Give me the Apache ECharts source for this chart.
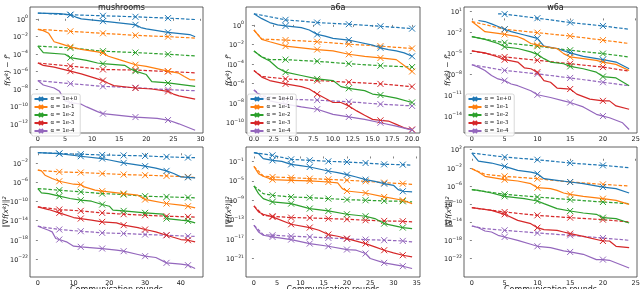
<!DOCTYPE html>
<html><head><meta charset="utf-8">
<script src="https://cdn.jsdelivr.net/npm/echarts@6/dist/echarts.min.js"></script>
<style>html,body{margin:0;padding:0;background:#fff}#c{width:640px;height:289px}</style>
</head><body><div id="c"></div>
<script>
// ---------- DATA (y values are log10 of the plotted quantity, x = communication round) ----------
const alphaNames = ['α = 1e+0','α = 1e-1','α = 1e-2','α = 1e-3','α = 1e-4'];
const titles = ['mushrooms','a6a','w6a'];

// marker rounds
const mushF_marks = [6,12,18,24];
const a6aF_marks  = [4,8,12,16,20];
const w6aF_marks  = [5,10,15,20];
const mushG_marks = [6,12,18,24,30,36,42];
const a6aG_marks  = [4,8,12,16,20,24,28,32];
const w6aG_marks  = [5,10,15,20];

// tick labels (x)
const mushF_xticks = [0,5,10,15,20,25,30];
const a6aF_xticks  = [0,2.5,5,7.5,10,12.5,15,17.5,20];
const w6aF_xticks  = [0,5,10,15,20,25];
const mushG_xticks = [0,10,20,30,40];
const a6aG_xticks  = [0,5,10,15,20,25,30,35];
const w6aG_xticks  = [0,5,10,15,20,25];
// tick labels (y exponents)
const mushF_yticks = [0,-2,-4,-6,-8,-10,-12];
const a6aF_yticks  = [0,-2,-4,-6,-8,-10];
const w6aF_yticks  = [1,-2,-5,-8,-11,-14];
const mushG_yticks = [-2,-6,-10,-14,-18,-22];
const a6aG_yticks  = [-1,-5,-9,-13,-17,-21];
const w6aG_yticks  = [2,-2,-6,-10,-14,-18,-22];

// mushrooms, f(x^k)-f*
const mushF_s0 = [[0,0.66],[4,0.6],[6,0.46],[7,0.2],[8,0.0],[12,-0.27],[17,-0.6],[18,-0.69],[19,-1.0],[20,-1.15],[24,-1.54],[28,-1.8],[29,-2.05]];
const mushF_d0 = [[0,0.66],[6,0.46],[12,0.35],[18,0.23],[24,0.08],[29,-0.08]];
const mushF_s1 = [[0,-1.2],[1,-1.35],[2,-1.66],[3,-2.62],[4,-2.8],[6,-3.2],[8,-3.5],[11,-3.78],[12,-3.9],[13,-4.28],[15,-4.67],[18,-5.25],[20,-5.44],[24,-5.98],[26,-6.21],[27,-6.6],[28,-6.94],[29,-6.98]];
const mushF_d1 = [[0,-1.2],[6,-1.43],[12,-1.66],[18,-1.89],[24,-2.04],[29,-2.2]];
const mushF_s2 = [[0,-3.13],[1,-3.86],[5,-4.05],[6,-4.44],[9,-4.75],[11,-5.05],[12,-5.13],[16,-5.32],[17,-5.71],[18,-5.98],[20,-6.37],[21,-7.18],[24,-7.33],[29,-7.72]];
const mushF_d2 = [[0,-3.13],[6,-3.32],[12,-3.7],[18,-3.86],[24,-4.05],[29,-4.24]];
const mushF_s3 = [[0,-5.05],[1,-5.32],[3,-5.52],[6,-5.98],[8,-6.29],[11,-6.87],[12,-7.06],[13,-7.37],[14,-7.64],[18,-7.91],[21,-8.02],[24,-8.3],[25,-8.6],[26,-8.8],[29,-9.18]];
const mushF_d3 = [[0,-5.05],[6,-5.4],[12,-5.79],[18,-5.86],[24,-6.02],[29,-6.17]];
const mushF_s4 = [[0,-7.06],[1,-7.56],[3,-7.91],[4,-8.29],[5,-9.38],[6,-9.57],[8,-9.76],[9,-10.07],[11,-10.61],[12,-10.84],[18,-11.23],[22,-11.38],[24,-11.57],[26,-12.0],[29,-12.73]];
const mushF_d4 = [[0,-7.06],[6,-7.41],[12,-7.72],[18,-7.87],[24,-8.1],[29,-8.22]];

// a6a, f(x^k)-f*
const a6aF_s0 = [[0,1.14],[1,0.64],[2,0.24],[3,0.0],[4,-0.1],[6,-0.28],[7,-0.52],[8,-0.97],[9,-1.14],[10,-1.38],[12,-1.55],[13,-1.72],[15,-2.07],[16,-2.34],[17,-2.52],[18,-2.66],[19,-2.86],[20,-3.21]];
const a6aF_d0 = [[0,1.14],[4,0.52],[8,0.24],[12,0.07],[16,-0.14],[20,-0.38]];
const a6aF_s1 = [[0,-0.52],[1,-1.48],[2,-1.72],[4,-2.17],[6,-2.34],[8,-2.52],[10,-2.66],[12,-3.0],[14,-3.21],[16,-3.38],[18,-3.55],[19,-4.14],[20,-4.76]];
const a6aF_d1 = [[0,-0.52],[1,-1.45],[4,-1.55],[8,-1.72],[12,-1.97],[16,-2.17],[20,-2.41]];
const a6aF_s2 = [[0,-2.66],[1,-3.28],[2,-3.69],[3,-4.41],[4,-4.83],[6,-5.17],[8,-5.52],[10,-5.69],[11,-6.31],[12,-6.48],[14,-6.72],[15,-7.07],[16,-7.17],[18,-7.48],[20,-7.93]];
const a6aF_d2 = [[0,-2.66],[1,-3.28],[2,-3.55],[4,-3.55],[8,-3.72],[12,-3.97],[16,-4.17],[20,-4.31]];
const a6aF_s3 = [[0,-4.66],[1,-5.34],[2,-5.69],[4,-6.03],[6,-6.31],[7,-6.55],[8,-7.07],[10,-7.93],[11,-7.93],[12,-8.28],[13,-8.79],[14,-9.24],[15,-9.66],[16,-9.76],[17,-9.83],[18,-10.17],[19,-10.52],[20,-10.69]];
const a6aF_d3 = [[0,-4.66],[1,-5.28],[4,-5.52],[8,-5.69],[12,-5.86],[16,-6.03],[20,-6.31]];
const a6aF_s4 = [[0,-6.66],[1,-7.41],[2,-7.76],[4,-8.1],[6,-8.38],[8,-8.62],[10,-9.14],[12,-9.41],[14,-9.66],[16,-10.0],[18,-10.34],[20,-10.75]];
const a6aF_d4 = [[0,-6.66],[1,-7.24],[4,-7.59],[8,-7.69],[12,-7.86],[16,-8.1],[20,-8.28]];

// w6a, f(x^k)-f*
const w6aF_s0 = [[1,-0.3],[2,-0.45],[3,-0.79],[4,-1.17],[5,-1.56],[6,-1.9],[8,-2.38],[9,-2.62],[10,-2.86],[11,-3.98],[13,-4.31],[15,-4.94],[17,-5.43],[20,-5.91],[22,-6.25],[24,-7.21]];
const w6aF_d0 = [[4,0.66],[5,0.61],[10,0.03],[15,-0.59],[20,-1.08],[24,-1.56]];
const w6aF_s1 = [[0,-0.45],[1,-1.17],[2,-1.9],[4,-2.14],[5,-2.29],[7,-2.62],[8,-3.01],[9,-3.59],[10,-3.83],[12,-4.17],[13,-4.31],[14,-5.04],[15,-5.52],[17,-5.76],[19,-6.0],[20,-6.25],[22,-6.58],[24,-7.45]];
const w6aF_d1 = [[0,-0.45],[5,-1.56],[10,-2.04],[15,-2.53],[20,-3.11],[24,-3.59]];
const w6aF_s2 = [[0,-2.62],[2,-3.01],[4,-3.59],[5,-4.07],[7,-4.31],[9,-4.8],[10,-5.14],[11,-5.76],[12,-6.25],[14,-6.49],[15,-6.87],[17,-7.21],[19,-7.7],[20,-8.32],[22,-8.52],[24,-9.63]];
const w6aF_d2 = [[0,-2.62],[5,-3.49],[10,-3.98],[15,-4.56],[20,-5.04],[24,-5.52]];
const w6aF_s3 = [[0,-4.65],[2,-4.94],[4,-5.52],[5,-5.91],[7,-6.25],[8,-7.07],[9,-7.21],[10,-7.7],[11,-8.9],[12,-9.14],[13,-9.97],[15,-10.11],[16,-10.84],[18,-11.56],[20,-11.8],[21,-11.8],[22,-12.53],[24,-13.0]];
const w6aF_d3 = [[0,-4.65],[5,-5.52],[10,-6.0],[15,-6.49],[20,-6.97],[24,-7.55]];
const w6aF_s4 = [[0,-6.63],[1,-6.97],[2,-7.45],[3,-8.18],[4,-8.66],[5,-8.9],[6,-9.39],[7,-9.63],[9,-10.35],[10,-10.93],[12,-11.32],[14,-11.8],[15,-12.04],[17,-12.67],[19,-13.73],[20,-13.98],[21,-14.22],[23,-14.94],[24,-15.9]];
const w6aF_d4 = [[0,-6.63],[5,-7.45],[10,-7.94],[15,-8.52],[20,-9.14],[24,-9.63]];

// mushrooms, ||grad f(x^k)||^2
const mushG_s0 = [[0,0.15],[6,-0.06],[12,-0.62],[18,-1.1],[20,-1.4],[24,-2.0],[30,-2.69],[33,-3.1],[36,-3.66],[38,-4.2],[40,-4.91],[42,-5.0],[44,-5.11]];
const mushG_d0 = [[0,0.15],[6,-0.06],[12,-0.2],[18,-0.35],[24,-0.45],[30,-0.55],[36,-0.75],[42,-0.89],[44,-0.9]];
const mushG_s1 = [[0,-3.52],[1,-3.66],[2,-4.56],[4,-5.25],[6,-5.81],[10,-6.43],[12,-6.5],[13,-6.98],[16,-7.67],[18,-7.88],[24,-8.37],[28,-8.71],[30,-9.61],[31,-9.75],[36,-10.44],[40,-10.79],[42,-11.0],[44,-11.34]];
const mushG_d1 = [[0,-3.52],[6,-3.87],[12,-4.0],[18,-4.21],[24,-4.42],[30,-4.56],[36,-4.7],[42,-4.91],[44,-5.05]];
const mushG_s2 = [[0,-7.33],[1,-8.23],[3,-8.37],[6,-8.92],[9,-9.4],[12,-9.75],[15,-9.96],[18,-10.65],[20,-11.0],[21,-11.83],[24,-11.97],[30,-12.38],[35,-12.66],[36,-13.56],[40,-13.9],[42,-14.04],[44,-14.46]];
const mushG_d2 = [[0,-7.33],[6,-7.67],[12,-8.02],[18,-8.37],[24,-8.57],[30,-8.92],[36,-9.06],[42,-9.2],[44,-9.27]];
const mushG_s3 = [[0,-11.13],[3,-11.69],[6,-12.38],[10,-13.35],[12,-13.56],[15,-13.9],[18,-14.25],[22,-14.46],[24,-14.94],[28,-15.43],[30,-15.84],[33,-16.33],[36,-17.02],[40,-17.92],[42,-18.06],[44,-18.4]];
const mushG_d3 = [[0,-11.13],[6,-11.69],[12,-11.97],[18,-12.38],[24,-12.66],[30,-12.87],[36,-13.07],[42,-13.21],[44,-13.25]];
const mushG_s4 = [[0,-15.15],[3,-15.98],[4,-16.33],[5,-17.71],[6,-17.92],[8,-18.4],[10,-19.3],[12,-19.44],[18,-19.79],[22,-20.13],[24,-20.34],[28,-21.03],[30,-21.38],[33,-21.65],[36,-22.76],[40,-23.04],[42,-23.25],[44,-23.94]];
const mushG_d4 = [[0,-15.15],[6,-15.84],[12,-16.19],[18,-16.53],[24,-16.67],[30,-16.88],[36,-17.02],[42,-17.22],[44,-17.26]];

// a6a, ||grad f(x^k)||^2
const a6aG_s0 = [[0,0.78],[1,0.58],[2,-0.45],[4,-0.79],[6,-1.0],[8,-1.62],[10,-1.89],[12,-2.16],[14,-2.58],[16,-2.99],[18,-3.33],[20,-3.74],[22,-4.22],[24,-4.77],[26,-5.11],[28,-5.59],[30,-5.93],[31,-6.82],[32,-7.16],[34,-7.3]];
const a6aG_d0 = [[0,0.78],[4,0.23],[8,-0.59],[12,-0.79],[16,-1.0],[20,-1.14],[24,-1.34],[28,-1.62],[32,-1.68],[34,-1.82]];
const a6aG_s1 = [[0,-2.03],[1,-3.53],[2,-4.08],[4,-4.77],[8,-4.9],[12,-5.04],[16,-5.25],[18,-5.45],[19,-6.62],[20,-7.1],[24,-7.51],[28,-8.33],[32,-9.01],[34,-9.7]];
const a6aG_d1 = [[0,-2.03],[2,-4.01],[4,-4.22],[8,-4.36],[12,-4.56],[16,-4.7],[20,-4.9],[24,-5.11],[28,-5.38],[32,-5.59],[34,-5.73]];
const a6aG_s2 = [[0,-6.07],[1,-7.64],[2,-8.67],[4,-9.36],[8,-9.7],[12,-10.73],[16,-11.21],[20,-11.89],[24,-12.3],[26,-12.78],[28,-13.81],[32,-14.63],[34,-14.84]];
const a6aG_d2 = [[0,-6.07],[2,-7.64],[4,-7.99],[8,-8.33],[12,-8.47],[16,-8.67],[20,-8.88],[24,-9.01],[28,-9.15],[32,-9.22],[34,-9.36]];
const a6aG_s3 = [[0,-10.18],[1,-11.41],[2,-11.89],[4,-12.44],[8,-13.95],[12,-14.63],[14,-15.18],[16,-16.07],[18,-16.41],[20,-16.89],[24,-17.92],[26,-18.6],[28,-19.29],[30,-19.84],[32,-20.32],[34,-20.66]];
const a6aG_d3 = [[0,-10.18],[2,-12.1],[4,-12.3],[8,-12.58],[12,-12.64],[16,-12.78],[20,-12.92],[24,-13.12],[28,-13.26],[32,-13.33],[34,-13.47]];
const a6aG_s4 = [[0,-14.15],[1,-15.52],[2,-16.21],[4,-16.55],[8,-17.1],[12,-17.92],[16,-18.47],[20,-19.15],[22,-19.29],[24,-19.97],[25,-21.0],[28,-21.89],[32,-22.58],[34,-23.05]];
const a6aG_d4 = [[0,-14.15],[2,-16.07],[4,-16.21],[8,-16.41],[12,-16.55],[16,-16.75],[20,-16.96],[24,-17.1],[28,-17.23],[32,-17.37],[34,-17.58]];

// w6a, ||grad f(x^k)||^2
const w6aG_s0 = [[0,1.26],[1,-0.5],[3,-0.94],[5,-1.68],[7,-2.56],[9,-2.93],[10,-3.29],[11,-4.4],[13,-4.76],[15,-5.13],[17,-5.5],[20,-6.24],[22,-6.6],[24,-7.56]];
const w6aG_d0 = [[0,1.26],[5,0.38],[10,-0.21],[15,-0.94],[20,-1.46],[24,-1.97]];
const w6aG_s1 = [[0,-2.19],[1,-2.93],[2,-3.88],[5,-4.62],[7,-4.91],[9,-5.5],[10,-6.38],[12,-6.6],[13,-6.97],[14,-7.56],[15,-7.85],[17,-8.29],[20,-8.81],[22,-9.18],[24,-10.06]];
const w6aG_d1 = [[0,-2.19],[2,-3.44],[5,-3.88],[10,-4.4],[15,-5.13],[20,-5.65],[24,-6.01]];
const w6aG_s2 = [[0,-6.82],[1,-6.97],[3,-7.56],[5,-8.29],[8,-8.81],[10,-9.32],[11,-9.91],[13,-11.01],[15,-11.53],[17,-11.97],[19,-12.26],[20,-13.0],[22,-13.22],[24,-14.18]];
const w6aG_d2 = [[0,-6.82],[5,-7.85],[10,-8.44],[15,-9.03],[20,-9.54],[24,-9.91]];
const w6aG_s3 = [[0,-10.79],[3,-11.38],[5,-12.26],[7,-13.59],[9,-14.32],[10,-15.21],[11,-15.65],[13,-15.79],[14,-16.16],[15,-16.53],[17,-17.12],[20,-18.15],[21,-18.15],[22,-19.32],[24,-19.62]];
const w6aG_d3 = [[0,-10.79],[5,-11.75],[10,-12.49],[15,-13.0],[20,-13.44],[24,-13.96]];
const w6aG_s4 = [[0,-14.84],[1,-15.21],[2,-15.94],[3,-16.16],[4,-16.9],[5,-17.26],[7,-18.0],[9,-18.88],[10,-19.32],[12,-19.62],[14,-20.35],[15,-20.57],[17,-21.09],[19,-22.26],[20,-22.26],[21,-22.41],[24,-24.1]];
const w6aG_d4 = [[0,-14.84],[2,-15.43],[5,-15.79],[10,-16.38],[15,-16.9],[20,-17.49],[24,-18.0]];

// ---------- LAYOUT / STYLE ----------
const COLORS = ['#1f77b4','#ff7f0e','#2ca02c','#d62728','#9467bd'];
const FONT = 'DejaVu Sans';
const XMARK = 'path://M0,0L10,10M10,0L0,10';
const nameF = 'f(x{s|k}) − f{s|*}';
const nameG = '‖∇f(x{s|k})‖{s|2}';

const panels = [
  {grid:{left:30,top:7,width:173,height:126}, xr:[-1.45,30.45], yr:[-13.05,1.35], xt:mushF_xticks, yt:mushF_yticks, marks:mushF_marks, S:[mushF_s0,mushF_s1,mushF_s2,mushF_s3,mushF_s4], D:[mushF_d0,mushF_d1,mushF_d2,mushF_d3,mushF_d4], yname:nameF, ngap:18, dec:0, top:true},
  {grid:{left:246,top:7,width:174,height:126}, xr:[-1,21], yr:[-11.05,1.83], xt:a6aF_xticks, yt:a6aF_yticks, marks:a6aF_marks, S:[a6aF_s0,a6aF_s1,a6aF_s2,a6aF_s3,a6aF_s4], D:[a6aF_d0,a6aF_d1,a6aF_d2,a6aF_d3,a6aF_d4], yname:nameF, ngap:13, dec:1, top:true},
  {grid:{left:464,top:7,width:173,height:126}, xr:[-1.2,25.2], yr:[-16.4,1.63], xt:w6aF_xticks, yt:w6aF_yticks, marks:w6aF_marks, S:[w6aF_s0,w6aF_s1,w6aF_s2,w6aF_s3,w6aF_s4], D:[w6aF_d0,w6aF_d1,w6aF_d2,w6aF_d3,w6aF_d4], yname:nameF, ngap:12, dec:0, top:true},
  {grid:{left:30,top:147,width:173,height:130}, xr:[-2.2,46.2], yr:[-25.7,1.3], xt:mushG_xticks, yt:mushG_yticks, marks:mushG_marks, S:[mushG_s0,mushG_s1,mushG_s2,mushG_s3,mushG_s4], D:[mushG_d0,mushG_d1,mushG_d2,mushG_d3,mushG_d4], yname:nameG, ngap:20, dec:0, top:false},
  {grid:{left:246,top:147,width:174,height:130}, xr:[-1.7,35.7], yr:[-24.8,1.95], xt:a6aG_xticks, yt:a6aG_yticks, marks:a6aG_marks, S:[a6aG_s0,a6aG_s1,a6aG_s2,a6aG_s3,a6aG_s4], D:[a6aG_d0,a6aG_d1,a6aG_d2,a6aG_d3,a6aG_d4], yname:nameG, ngap:13, dec:0, top:false},
  {grid:{left:464,top:147,width:173,height:130}, xr:[-1.2,25.2], yr:[-26.1,2.6], xt:w6aG_xticks, yt:w6aG_yticks, marks:w6aG_marks, S:[w6aG_s0,w6aG_s1,w6aG_s2,w6aG_s3,w6aG_s4], D:[w6aG_d0,w6aG_d1,w6aG_d2,w6aG_d3,w6aG_d4], yname:nameG, ngap:11, dec:0, top:false}
];

const grids = [], xAxes = [], yAxes = [], series = [], legends = [], titleArr = [];
const supFmt = v => '{b|10}{s|' + (v < 0 ? '−' : '') + Math.abs(v) + '}';

panels.forEach((p, i) => {
  grids.push(Object.assign({id:'g'+i, show:true, borderColor:'#3a3a3a', borderWidth:0.8, backgroundColor:'transparent', containLabel:false, outerBoundsMode:'none'}, p.grid));
  xAxes.push({
    id:'x'+i, type:'value', gridIndex:i, min:p.xr[0], max:p.xr[1],
    axisLine:{show:false}, splitLine:{show:false},
    axisTick:{show:true, length:2, customValues:p.xt, lineStyle:{color:'#333', width:0.6}},
    axisLabel:{customValues:p.xt, fontSize:6.5, color:'#222', fontFamily:FONT, margin:3, hideOverlap:false,
      formatter: v => p.dec ? Number(v).toFixed(1) : String(v)},
    name: p.top ? '' : 'Communication rounds', nameLocation:'middle', nameGap:9, nameMoveOverlap:false,
    nameTextStyle:{fontSize:8, color:'#222', fontFamily:FONT}
  });
  yAxes.push({
    id:'y'+i, type:'value', gridIndex:i, min:p.yr[0], max:p.yr[1],
    axisLine:{show:false}, splitLine:{show:false},
    axisTick:{show:true, length:2, customValues:p.yt, lineStyle:{color:'#333', width:0.6}},
    axisLabel:{customValues:p.yt, color:'#222', fontFamily:FONT, margin:2, hideOverlap:false, formatter:supFmt,
      rich:{b:{fontSize:6.5, fontFamily:FONT, color:'#222', lineHeight:9, verticalAlign:'bottom'},
            s:{fontSize:4.6, fontFamily:FONT, color:'#222', lineHeight:5, verticalAlign:'top'}}},
    name:p.yname, nameLocation:'middle', nameGap:p.ngap, nameRotate:90, nameMoveOverlap:false,
    nameTextStyle:{fontSize:7.5, color:'#222', fontFamily:FONT, fontStyle:'italic',
      rich:{s:{fontSize:5.2, fontFamily:FONT, color:'#222', fontStyle:'italic', verticalAlign:'top'}}}
  });
  const mk = (pts, c, dashed, nm) => ({
    type:'line', name:nm, xAxisIndex:i, yAxisIndex:i,
    data: pts.map(pt => p.marks.indexOf(pt[0]) >= 0 ? {value:pt} : {value:pt, symbol:'none'}),
    symbol:XMARK, symbolSize:6, showAllSymbol:true,
    lineStyle:{color:c, width:1.2, type: dashed ? [3.5,1.8] : 'solid'},
    itemStyle:{color:c, borderColor:c, borderWidth:1},
    emphasis:{disabled:true}, z: dashed ? 2 : 3
  });
  for (let k = 0; k < 5; k++) series.push(mk(p.S[k], COLORS[k], false, alphaNames[k]));
  for (let k = 0; k < 5; k++) series.push(mk(p.D[k], COLORS[k], true, alphaNames[k]));
  if (p.top) {
    legends.push({
      id:'lg'+i, type:'plain', show:true,
      data: alphaNames.slice(), orient:'vertical', left:p.grid.left + 1.5, top:94,
      itemWidth:13, itemHeight:5, itemGap:2, selectedMode:false,
      padding:[2,3,2,2], borderColor:'#cfcfcf', borderWidth:0.8, borderRadius:2,
      backgroundColor:'rgba(255,255,255,0.85)', z:10,
      textStyle:{fontSize:5.5, color:'#222', fontFamily:FONT, padding:[0,0,0,-2]}
    });
    titleArr.push({id:'t'+i, text:titles[i], left:p.grid.left + p.grid.width/2, top:-1, textAlign:'center',
      textStyle:{fontSize:8, fontWeight:'normal', color:'#111', fontFamily:FONT}});
  }
});

const chart = echarts.init(document.getElementById('c'), null, {renderer:'canvas'});
chart.setOption({
  animation:false, backgroundColor:'#fff',
  title:titleArr, grid:grids, xAxis:xAxes, yAxis:yAxes, legend:legends, series:series
});
</script></body></html>
